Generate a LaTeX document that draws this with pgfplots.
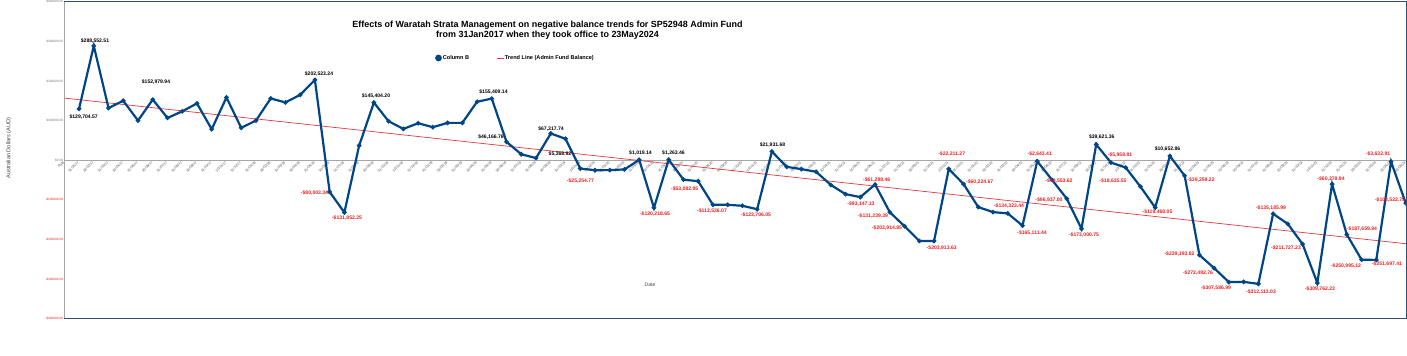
\documentclass[border=0pt]{standalone}
\usepackage{pgfplots}
\pgfplotsset{compat=1.18}
\usepackage{fontspec}
\setmainfont{Liberation Sans}
\definecolor{serB}{HTML}{004586}
\definecolor{trendred}{HTML}{E0393E}
\definecolor{negred}{HTML}{F01E1E}
\definecolor{frameblue}{HTML}{2E4F72}
\begin{document}
\begin{tikzpicture}[x=1bp,y=1bp]
\begin{axis}[
  at={(64.3bp,36.3bp)}, anchor=south west, scale only axis,
  width=1341.5bp, height=317bp,
  xmin=0, xmax=91, ymin=-400000, ymax=400000,
  axis line style={draw=none},
  tick style={draw=none},
  scaled y ticks=false,
  clip=true,
  ytick={-400000,-300000,-200000,-100000,0,100000,200000,300000,400000},
  yticklabels={\textcolor{negred}{-\$400000.00},\textcolor{negred}{-\$300000.00},\textcolor{negred}{-\$200000.00},\textcolor{negred}{-\$100000.00},\$0.00,\$100000.00,\$200000.00,\$300000.00,\$400000.00},
  yticklabel style={font=\fontsize{3.2}{3.2}\selectfont, text=black!55, inner sep=1bp},
  xtick={0,...,91},
  xticklabels={Date,
31/01/17,28/02/17,31/03/17,30/04/17,31/05/17,30/06/17,31/07/17,31/08/17,30/09/17,31/10/17,30/11/17,31/12/17,
31/01/18,28/02/18,31/03/18,30/04/18,31/05/18,30/06/18,31/07/18,31/08/18,30/09/18,31/10/18,30/11/18,31/12/18,
31/01/19,28/02/19,31/03/19,30/04/19,31/05/19,30/06/19,31/07/19,31/08/19,30/09/19,31/10/19,30/11/19,31/12/19,
31/01/20,29/02/20,31/03/20,30/04/20,31/05/20,30/06/20,31/07/20,31/08/20,30/09/20,31/10/20,30/11/20,31/12/20,
31/01/21,28/02/21,31/03/21,30/04/21,31/05/21,15/06/21,30/06/21,31/07/21,31/08/21,30/09/21,31/10/21,30/11/21,31/12/21,
31/01/22,28/02/22,31/03/22,30/04/22,31/05/22,30/06/22,31/07/22,31/08/22,30/09/22,31/10/22,30/11/22,31/12/22,
31/01/23,28/02/23,31/03/23,30/04/23,31/05/23,15/06/23,30/06/23,31/07/23,31/08/23,30/09/23,31/10/23,30/11/23,31/12/23,
31/01/24,29/02/24,31/03/24,30/04/24,23/05/24},
  xticklabel style={font=\fontsize{3.5}{3.5}\selectfont, text=black!70, yshift=157.5bp, rotate=45, anchor=east, inner sep=0.8bp},
  legend style={at={(rel axis cs:0.336,0.8224)}, anchor=center, draw=none, fill=none,
     font=\fontsize{5.6}{6}\selectfont\bfseries, legend columns=2,
     /tikz/every even column/.append style={column sep=26bp},
     inner sep=0pt, nodes={inner sep=1bp}},
]
\draw[gray!70, line width=0.5bp] (axis cs:0,0) -- (axis cs:91,0);
\addplot[trendred, line width=0.7bp, forget plot] coordinates {(0,156750) (91,-210750)};
\addplot[serB, line width=2.2bp, mark=*, mark size=1bp,
  legend image code/.code={\fill[serB] (0.2bp,0) circle (2.2bp);}] coordinates {
(1,129704.57) (2,288552.51) (3,131700) (4,150000) (5,100000) (6,152979.94) (7,106700) (8,123300) (9,143300) (10,78300)
(11,158300) (12,81700) (13,100000) (14,155800) (15,145800) (16,165000) (17,202523.24) (18,-80003.34) (19,-131852.25) (20,36700)
(21,145404.20) (22,98300) (23,79000) (24,93300) (25,83300) (26,94200) (27,94200) (28,147500) (29,155409.14) (30,46166.76)
(31,15000) (32,5368.92) (33,67317.74) (34,54000) (35,-21000) (36,-25254.77) (37,-25000) (38,-23300) (39,1019.14) (40,-120218.65)
(41,1263.46) (42,-49000) (43,-53082.95) (44,-112536.07) (45,-112600) (46,-115000) (47,-123706.05) (48,21931.68) (49,-16700) (50,-22500)
(51,-29200) (52,-62500) (53,-85800) (54,-93147.13) (55,-61298.46) (56,-131239.39) (57,-166700) (58,-203914.85) (59,-203913.63) (60,-22211.27)
(61,-60224.67) (62,-118300) (63,-131000) (64,-134323.44) (65,-165111.44) (66,-2643.41) (67,-49553.62) (68,-96937.00) (69,-173000.75) (70,39621.36)
(71,-5958.81) (72,-18635.55) (73,-66700) (74,-119468.05) (75,10652.86) (76,-39259.22) (77,-239193.82) (78,-272482.76) (79,-307586.99) (80,-307000)
(81,-312113.03) (82,-135185.99) (83,-160800) (84,-211727.23) (85,-309762.23) (86,-60378.94) (87,-187659.84) (88,-250995.12) (89,-251697.41) (90,-3632.91)
(91,-108522.75)};
\addlegendentry{Column B}
\addlegendimage{trendred, line width=0.7bp, legend image code/.code={\draw[trendred, line width=0.7bp] (-3bp,0) -- (4bp,0);}}
\addlegendentry{Trend Line (Admin Fund Balance)}
\end{axis}
\pgfresetboundingbox
\useasboundingbox (0,0) rectangle (1407,355);
% frame
\draw[gray!70, line width=0.6bp] (64.3,36.3) -- (64.3,353.3);
\draw[frameblue, line width=0.8bp] (64.3,353.3) -- (1406.5,353.3);
\draw[frameblue, line width=0.8bp] (64.3,36.3) -- (1406.5,36.3);
\draw[frameblue, line width=0.8bp] (1406.5,36.3) -- (1406.5,353.3);
% titles
\node[align=center, font=\fontsize{9}{10}\selectfont\bfseries] at (547.5,324.5) {Effects of Waratah Strata Management on negative balance trends for SP52948 Admin Fund\\from 31Jan2017 when they took office to 23May2024};
\node[font=\fontsize{5}{5}\selectfont, text=darkgray] at (650,70) {Date};
\node[rotate=90, font=\fontsize{5.6}{6}\selectfont, text=darkgray] at (9,207) {Australian Dollars (AUD)};
% data labels
\begin{scope}[every node/.style={font=\fontsize{5.1}{5.5}\selectfont\bfseries, inner sep=0pt}]
\node at (95,314.3) {\$288,552.51};
\node at (83.7,238) {\$129,704.57};
\node at (156,273.3) {\$152,979.94};
\node at (319,281) {\$202,523.24};
\node[text=negred] at (314.5,162.3) {-\$80,003.34};
\node[text=negred] at (347,137) {-\$131,852.25};
\node at (376,259.3) {\$145,404.20};
\node at (493.5,262.7) {\$155,409.14};
\node at (491,217.7) {\$46,166.76};
\node at (551,226) {\$67,317.74};
\node at (560,201) {\$5,368.92};
\node[text=negred] at (580.5,174.3) {-\$25,254.77};
\node at (640.5,202.3) {\$1,019.14};
\node[text=negred] at (655,141) {-\$120,218.65};
\node at (673.5,202.3) {\$1,263.46};
\node[text=negred] at (684.7,166) {-\$53,082.95};
\node[text=negred] at (712,144) {-\$112,536.07};
\node[text=negred] at (756,140) {-\$123,706.05};
\node at (772.5,210) {\$21,931.68};
\node[text=negred] at (861,151) {-\$93,147.13};
\node[text=negred] at (876.7,175) {-\$61,298.46};
\node[text=negred] at (873,139) {-\$131,239.39};
\node[text=negred] at (887,126.7) {-\$203,914.85};
\node[text=negred] at (941.7,107.3) {-\$203,913.63};
\node[text=negred] at (951.7,200.7) {-\$22,211.27};
\node[text=negred] at (979.7,172.7) {-\$60,224.67};
\node[text=negred] at (1009,149) {-\$134,323.44};
\node[text=negred] at (1032,122.3) {-\$165,111.44};
\node[text=negred] at (1039.7,200.7) {-\$2,643.41};
\node[text=negred] at (1059,174.3) {-\$49,553.62};
\node[text=negred] at (1049,155) {-\$96,937.00};
\node[text=negred] at (1084,119.7) {-\$173,000.75};
\node at (1101.7,218.3) {\$39,621.36};
\node[text=negred] at (1120,200) {-\$5,958.81};
\node[text=negred] at (1113,174.3) {-\$18,635.55};
\node[text=negred] at (1157.5,143.3) {-\$119,468.05};
\node at (1167.5,206) {\$10,652.86};
\node[text=negred] at (1201,175) {-\$39,259.22};
\node[text=negred] at (1179.5,101) {-\$239,193.82};
\node[text=negred] at (1198,81.7) {-\$272,482.76};
\node[text=negred] at (1216,67.3) {-\$307,586.99};
\node[text=negred] at (1261,62.7) {-\$312,113.03};
\node[text=negred] at (1271,146.7) {-\$135,185.99};
\node[text=negred] at (1286,106.7) {-\$211,727.23};
\node[text=negred] at (1320,66) {-\$309,762.23};
\node[text=negred] at (1331,176) {-\$60,378.94};
\node[text=negred] at (1362,126) {-\$187,659.84};
\node[text=negred] at (1346,89.3) {-\$250,995.12};
\node[text=negred] at (1387,91) {-\$251,697.41};
\node[text=negred] at (1378,201) {-\$3,632.91};
\node[text=negred] at (1390,155) {-\$108,522.75};
\end{scope}
\end{tikzpicture}
\end{document}
